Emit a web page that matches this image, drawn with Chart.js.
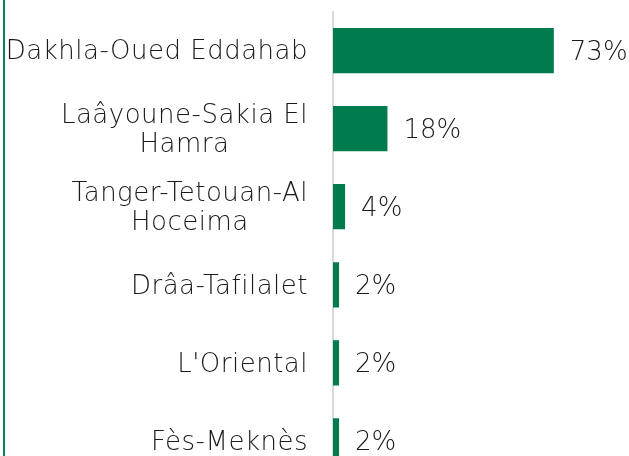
<!DOCTYPE html>
<html>
<head>
<meta charset="utf-8">
<script src="https://cdn.jsdelivr.net/npm/chart.js@4.4.1/dist/chart.umd.min.js"></script>
<style>
  html, body { margin: 0; padding: 0; background: #fff; overflow: hidden; }
  #wrap { position: relative; width: 629px; height: 480px; }
  #edge { position: absolute; left: 3px; top: 0; width: 2px; height: 480px; background: #0b8456; }
</style>
</head>
<body>
<div id="wrap">
  <div id="edge"></div>
  <canvas id="grafico" width="629" height="480"></canvas>
</div>
<script>
// Dados
const regioes = [
  "Dakhla-Oued Eddahab",
  ["Laâyoune-Sakia El", "Hamra"],
  ["Tanger-Tetouan-Al", "Hoceima"],
  "Drâa-Tafilalet",
  "L'Oriental",
  "Fès-Meknès",
];
const percentuais = [73, 18, 4, 2, 2, 2];
const verde = "#007b4d";
const fonte = "'DejaVu Sans', sans-serif";
const corTexto = "#1a1a1a";

// Rótulos das categorias (linhas centradas entre si, bloco alinhado à direita)
const categorias = {
  id: "categorias",
  afterDraw(chart) {
    const ctx = chart.ctx;
    const y = chart.scales.y;
    const direita = y.right - 25;
    const alturaLinha = 28.5;
    ctx.save();
    ctx.font = "200 26px " + fonte;
    ctx.letterSpacing = "0.5px";
    ctx.fillStyle = corTexto;
    ctx.textBaseline = "middle";
    regioes.forEach((rotulo, i) => {
      const linhas = Array.isArray(rotulo) ? rotulo : [rotulo];
      const centro = y.getPixelForTick(i) + 2;
      const topo = centro - ((linhas.length - 1) * alturaLinha) / 2;
      if (linhas.length === 1) {
        ctx.textAlign = "right";
        ctx.fillText(linhas[0], direita, centro);
      } else {
        const largura = Math.max(...linhas.map((l) => ctx.measureText(l).width));
        ctx.textAlign = "center";
        linhas.forEach((l, k) => {
          ctx.fillText(l, direita - largura / 2, topo + k * alturaLinha);
        });
      }
    });
    ctx.restore();
  },
};

// Rótulos de valor à direita das barras
const rotulos = {
  id: "rotulos",
  afterDatasetsDraw(chart) {
    const ctx = chart.ctx;
    const meta = chart.getDatasetMeta(0);
    ctx.save();
    ctx.font = "200 26px " + fonte;
    ctx.fillStyle = corTexto;
    ctx.textBaseline = "middle";
    ctx.textAlign = "left";
    meta.data.forEach((bar, i) => {
      ctx.fillText(percentuais[i] + "%", bar.x + 16, bar.y + 2.5);
    });
    ctx.restore();
  },
};

const config = {
  type: "bar",
  data: {
    labels: regioes,
    datasets: [
      {
        data: percentuais,
        backgroundColor: verde,
        borderWidth: 0,
        categoryPercentage: 0.58,
        barPercentage: 1,
      },
    ],
  },
  options: {
    indexAxis: "y",
    responsive: false,
    animation: false,
    layout: { padding: { top: 11.5, right: 54, bottom: 0, left: 0 } },
    plugins: { legend: { display: false }, tooltip: { enabled: false } },
    scales: {
      x: { display: false, min: 0, max: 80 },
      y: {
        afterFit: (s) => {
          s.width = 333;
          s.paddingTop = 0;
          s.paddingBottom = 0;
        },
        grid: { display: false, drawTicks: false },
        border: { display: true, color: "#d9d9d9", width: 2 },
        ticks: { display: false },
      },
    },
  },
  plugins: [categorias, rotulos],
};

const myChart = new Chart(document.getElementById("grafico"), config);
</script>
</body>
</html>
